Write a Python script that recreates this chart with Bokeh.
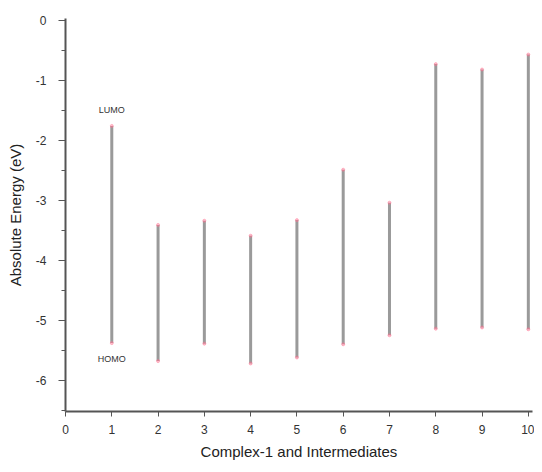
from bokeh.plotting import figure
from bokeh.models import ColumnDataSource, FixedTicker, Range1d
from bokeh.core.properties import value
from bokeh.embed import file_html
from bokeh.resources import INLINE

compounds = [1, 2, 3, 4, 5, 6, 7, 8, 9, 10]
lumo = [-1.76, -3.41, -3.34, -3.59, -3.33, -2.49, -3.04, -0.73, -0.82, -0.57]
homo = [-5.38, -5.68, -5.39, -5.72, -5.62, -5.40, -5.25, -5.14, -5.12, -5.15]
x_ticks = [0, 1, 2, 3, 4, 5, 6, 7, 8, 9, 10]
y_ticks = [0, -1, -2, -3, -4, -5, -6]
y_minor = [-0.5, -1.5, -2.5, -3.5, -4.5, -5.5, -6.5]
lumo_label_y = -1.50
homo_label_y = -5.65

FONT = "Liberation Sans"

p = figure(width=534, height=464, output_backend="svg", toolbar_location=None,
           x_range=Range1d(0, 10.09), y_range=Range1d(-6.52, 0.03),
           min_border_left=65, min_border_top=18, min_border_bottom=53, min_border_right=2)
p.outline_line_color = None
p.xgrid.visible = False
p.ygrid.visible = False
p.background_fill_color = "white"

src = ColumnDataSource(dict(x=compounds, lumo=lumo, homo=homo))
p.segment(x0="x", y0="homo", x1="x", y1="lumo", source=src,
          line_color="#9a9a9a", line_width=3)
p.scatter(x="x", y="homo", source=src, size=3, color="#ff7090", alpha=0.45)
p.scatter(x="x", y="lumo", source=src, size=3, color="#ff7090", alpha=0.45)

p.text(x=[compounds[0]], y=[lumo_label_y], text=["LUMO"], text_align="center",
       text_baseline="middle", text_font=value(FONT), text_font_size="9px", text_color="#333333")
p.text(x=[compounds[0]], y=[homo_label_y], text=["HOMO"], text_align="center",
       text_baseline="middle", text_font=value(FONT), text_font_size="9px", text_color="#333333")

for ax in (p.xaxis[0], p.yaxis[0]):
    ax.axis_line_color = "#555555"
    ax.axis_line_width = 2
    ax.major_tick_line_color = "#555555"
    ax.minor_tick_line_color = "#555555"
    ax.major_tick_in = 0
    ax.minor_tick_out = 4
    ax.minor_tick_in = 0
    ax.major_label_text_font = FONT
    ax.major_label_text_font_size = "12px"
    ax.major_label_text_color = "#333333"
    ax.axis_label_text_font = FONT
    ax.axis_label_text_font_size = "15px"
    ax.axis_label_text_font_style = "normal"
    ax.axis_label_text_color = "#222222"

p.xaxis.ticker = FixedTicker(ticks=x_ticks)
p.yaxis.ticker = FixedTicker(ticks=y_ticks, minor_ticks=y_minor)
p.yaxis.major_label_overrides = {t: str(t) for t in y_ticks}
p.xaxis.axis_label = "Complex-1 and Intermediates"
p.yaxis.axis_label = "Absolute Energy (eV)"
p.xaxis.major_tick_out = 5
p.yaxis.major_tick_out = 7
p.xaxis.major_label_standoff = 8
p.yaxis.major_label_standoff = 12
p.xaxis.axis_label_standoff = 6
p.yaxis.axis_label_standoff = 9

open("out.html", "w").write(file_html(p, INLINE))
